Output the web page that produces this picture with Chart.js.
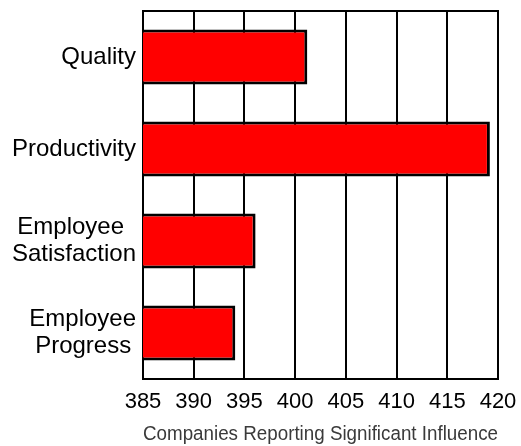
<!DOCTYPE html>
<html>
<head>
<meta charset="utf-8">
<script src="https://cdn.jsdelivr.net/npm/chart.js@4"></script>
<style>
  html, body { margin: 0; padding: 0; background: #fff; }
  #wrap { width: 521px; height: 446px; }
</style>
</head>
<body>
<div id="wrap"><canvas id="c"></canvas></div>
<script>
// data
// (en / thin spaces keep the two-line labels centred on each other)
const CATEGORIES = ["Quality", "Productivity", ["Employee\u2002", "Satisfaction"], ["Employee", "Progress\u2009"]];
const VALUES = [401.2, 419.2, 396.1, 394.1];
const X_MIN = 385, X_MAX = 420, X_STEP = 5;
const X_TITLE = "Companies Reporting Significant Influence";

const FONT = "'Liberation Sans', Arial, Helvetica, sans-serif";

// top edge of the plot frame
const frameTop = {
  id: "frameTop",
  afterDraw(chart) {
    const { ctx, chartArea: a } = chart;
    ctx.save();
    ctx.strokeStyle = "#000";
    ctx.lineWidth = 2;
    ctx.beginPath();
    ctx.moveTo(a.left - 1, a.top);
    ctx.lineTo(a.right + 1, a.top);
    ctx.stroke();
    ctx.restore();
  },
};

new Chart(document.getElementById("c"), {
  type: "bar",
  data: {
    labels: CATEGORIES,
    datasets: [{
      data: VALUES,
      backgroundColor: "#ff0000",
      borderColor: "#000",
      borderWidth: 3,
      borderSkipped: false,
      barPercentage: 0.6,
      categoryPercentage: 1,
    }],
  },
  options: {
    indexAxis: "y",
    responsive: true,
    maintainAspectRatio: false,
    animation: false,
    layout: { padding: { left: 0, top: 11, right: 23, bottom: 0 } },
    plugins: { legend: { display: false }, tooltip: { enabled: false } },
    scales: {
      x: {
        min: X_MIN, max: X_MAX,
        ticks: { stepSize: X_STEP, color: "#000", font: { family: FONT, size: 22 }, padding: 10, maxRotation: 0 },
        grid: { color: "#000", lineWidth: 2, drawTicks: false },
        border: { color: "#000", width: 2 },
        title: {
          display: true, text: X_TITLE, color: "#3a3a3a",
          font: { family: FONT, size: 20, lineHeight: 1 },
          padding: { top: 0, bottom: 2 },
        },
        afterFit: (s) => { s.height = 67; s.paddingLeft = 0; s.paddingRight = 0; },
      },
      y: {
        ticks: { color: "#000", font: { family: FONT, size: 24, lineHeight: 1.1 }, padding: 7 },
        grid: { display: false, drawTicks: false },
        border: { color: "#000", width: 2 },
        afterFit: (s) => { s.width = 143; s.paddingTop = 0; s.paddingBottom = 0; },
      },
    },
  },
  plugins: [frameTop],
});
</script>
</body>
</html>
